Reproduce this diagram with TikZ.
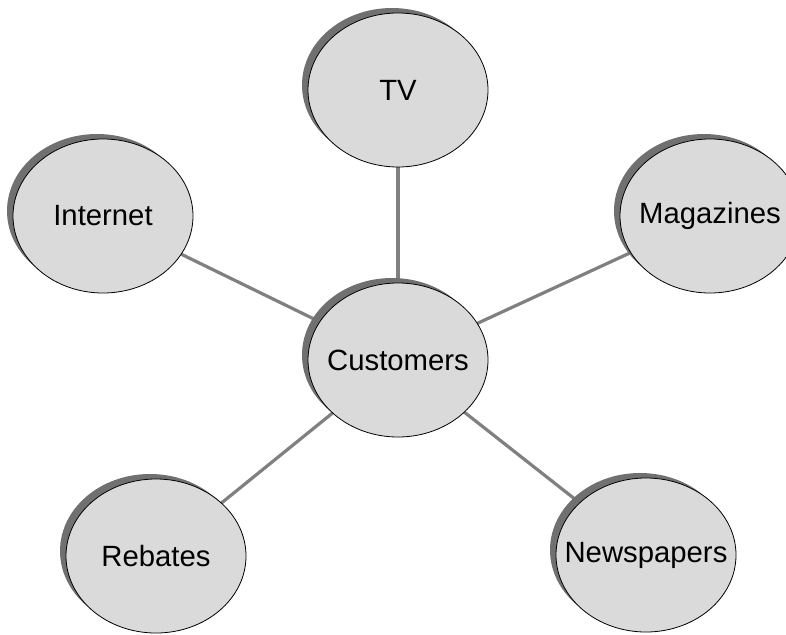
\documentclass[tikz,border=0pt]{standalone}
\usepackage{fontspec}
\setmainfont{Liberation Sans}
\usetikzlibrary{shapes.geometric,shadows}
\definecolor{bubblefill}{HTML}{DADADA}
\definecolor{shadowfill}{HTML}{707070}
\definecolor{linkgray}{HTML}{808080}
\newcommand{\bubbletext}[1]{\makebox[0pt]{#1}}
\begin{document}
\begin{tikzpicture}[x=1pt,y=-1pt,
  bubble/.style={ellipse, draw=black, line width=0.8pt, fill=bubblefill,
    minimum width=180pt, minimum height=154pt, inner sep=0pt,
    font=\fontsize{29.3}{33}\selectfont,
    drop shadow={shadow xshift=-6pt, shadow yshift=5pt, fill=shadowfill, draw=none, opacity=1}},
  link/.style={draw=linkgray, line width=3.2pt}]
\useasboundingbox (0,0) rectangle (786,634);
\clip (0,0) rectangle (786,634);
\coordinate (cTV) at (398,90);
\coordinate (cCu) at (398,360);
\coordinate (cIn) at (103,216);
\coordinate (cMa) at (710,216);
\coordinate (cRe) at (156,556);
\coordinate (cNe) at (646,555);
\draw[link] (cCu) -- (cTV);
\draw[link] (cCu) -- (cIn);
\draw[link] (cCu) -- (cMa);
\draw[link] (cCu) -- (cRe);
\draw[link] (cCu) -- (cNe);
\node[bubble] (tv) at (cTV) {\bubbletext{TV}};
\node[bubble] (internet) at (cIn) {\bubbletext{Internet}};
\node[bubble] (magazines) at (cMa) {\bubbletext{Magazines}};
\node[bubble] (rebates) at (cRe) {\bubbletext{Rebates}};
\node[bubble] (newspapers) at (cNe) {\bubbletext{Newspapers}};
\node[bubble] (customers) at (cCu) {\bubbletext{Customers}};
\end{tikzpicture}
\end{document}
